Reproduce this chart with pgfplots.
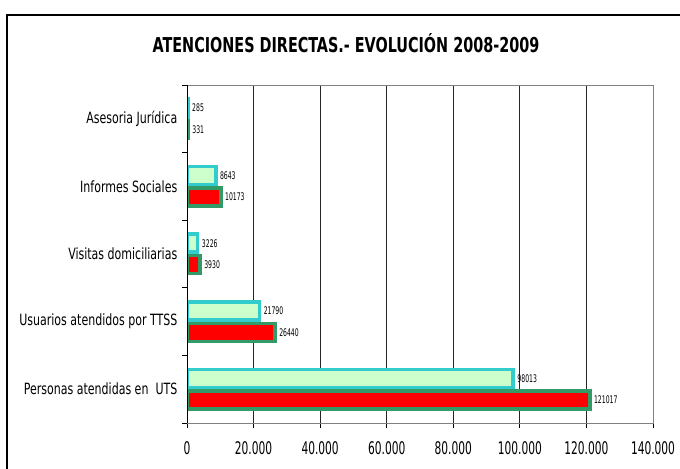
\documentclass[border=0pt]{standalone}
\usepackage{fontspec}
\usepackage{pgfplots}
\usepackage{pgfplotstable}
\pgfplotsset{compat=1.18}

\newfontfamily\labfont[FakeStretch=0.79]{DejaVu Sans Condensed}
\newfontfamily\tickfont[FakeStretch=0.68]{DejaVu Sans Condensed}
\newfontfamily\numfont[FakeStretch=0.65]{DejaVu Sans Condensed}
\newfontfamily\titfont[FakeStretch=0.78]{DejaVu Sans Condensed}

\definecolor{lgreen}{HTML}{CCFFCC}
\definecolor{turq}{HTML}{33CCCC}
\definecolor{dgreen}{HTML}{339966}

% idx 0 = bottom category
\pgfplotstableread{
idx y2008 y2009
0 98013 121017
1 21790 26440
2 3226 3930
3 8643 10173
4 285 331
}\datatable

\begin{document}
\begin{tikzpicture}
\path[use as bounding box] (0,0) rectangle (680bp,469bp);
\draw[line width=2bp] (7bp,-5bp) |- (700bp,454bp);

\begin{axis}[
	at={(187bp,46bp)}, anchor=south west,
	scale only axis, width=466bp, height=338bp,
	xbar, bar width=18bp,
	xmin=0, xmax=140000,
	xtick={0,20000,40000,60000,80000,100000,120000,140000},
	xticklabels={0,20.000,40.000,60.000,80.000,100.000,120.000,140.000},
	scaled x ticks=false,
	ymin=-0.5, ymax=4.5,
	ytick={-0.5,0.5,1.5,2.5,3.5,4.5},
	yticklabels={,,,,,},
	extra y ticks={0,1,2,3,4},
	extra y tick labels={Personas atendidas en\ \ UTS,Usuarios atendidos por TTSS,Visitas domiciliarias,Informes Sociales,Asesoria Jurídica},
	extra y tick style={major tick length=0pt,
		yticklabel style={font=\labfont\fontsize{15.5bp}{16bp}\selectfont, anchor=east, inner sep=0pt, xshift=-9.5bp}},
	tick align=outside, xtick pos=bottom, ytick pos=left,
	major tick length=5bp,
	tick style={black, line width=0.8bp},
	xmajorgrids,
	major x grid style={black!85, line width=0.8bp},
	axis line style={gray, line width=0.8bp},
	xticklabel style={font=\tickfont\fontsize{17.4bp}{18bp}\selectfont, yshift=-10bp},
	point meta=explicit symbolic,
	nodes near coords,
	nodes near coords style={font=\numfont\fontsize{10.5bp}{11bp}\selectfont, anchor=west, inner sep=1.5bp, xshift=1bp, black},
]
\addplot[fill=red, draw=dgreen, line width=3.5bp, bar shift=-10.75bp]
	table[x=y2009, y=idx, meta=y2009] {\datatable};
\addplot[fill=lgreen, draw=turq, line width=3.5bp, bar shift=10.75bp]
	table[x=y2008, y=idx, meta=y2008] {\datatable};
\draw[black, line width=0.8bp] (rel axis cs:0,1) -- (rel axis cs:0,0) -- (rel axis cs:1,0);
\end{axis}

\node[anchor=base, font=\titfont\bfseries\fontsize{20.5bp}{22bp}\selectfont] at (346bp,416bp) {ATENCIONES DIRECTAS.- EVOLUCIÓN 2008-2009};
\end{tikzpicture}
\end{document}
